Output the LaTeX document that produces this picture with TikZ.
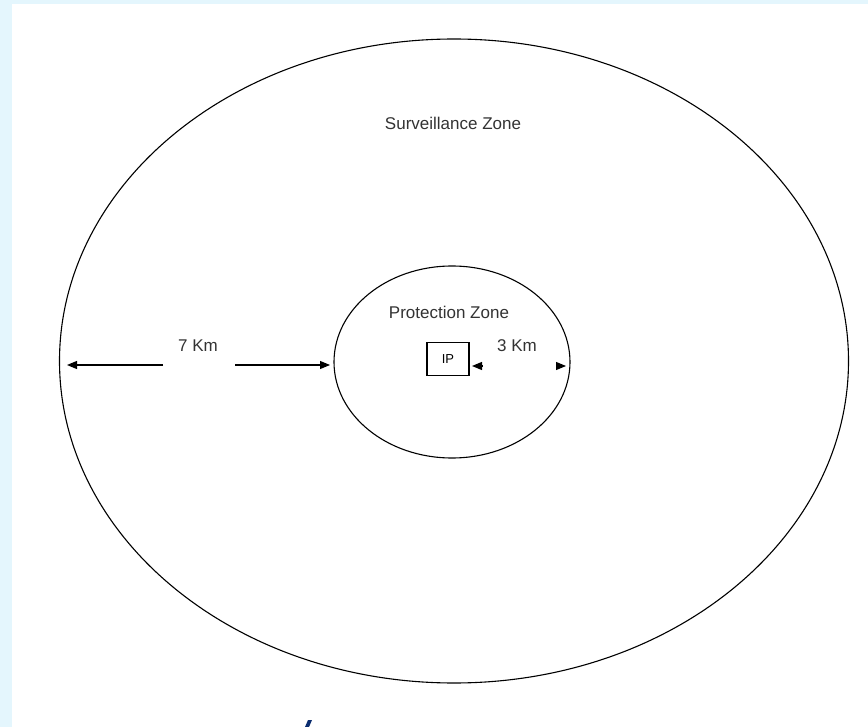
\documentclass[tikz,border=0pt]{standalone}
\usepackage{fontspec}
\setmainfont{Liberation Sans}
\usetikzlibrary{arrows.meta,shapes.geometric}
\definecolor{paleblue}{HTML}{E4F6FD}
\definecolor{inknavy}{HTML}{0B2D6F}
\begin{document}
\begin{tikzpicture}[x=1pt,y=-1pt,
        zone/.style={draw, ellipse, line width=1.1pt, inner sep=0pt},
        lbl/.style={font=\fontsize{17}{20}\selectfont, text=black!80, inner sep=0pt},
        tip/.style={-{Triangle[length=10pt,width=8pt]}, line width=1.1pt}]
    \fill[paleblue] (0,0) rectangle (868,727);
    \fill[white] (12,4) rectangle (868,727);
    \node[zone, minimum width=789pt, minimum height=644pt] (outer) at (454,361) {};
    \node[zone, minimum width=236pt, minimum height=192pt] (inner) at (452,362) {};
    \node[lbl] (surveillance) at (453,123) {Surveillance Zone};
    \node[lbl] (protection) at (449,312) {Protection Zone};
    \node[draw, line width=1.1pt, minimum width=42pt, minimum height=33pt,
        font=\fontsize{13}{15}\selectfont, inner sep=0pt] (ip) at (448,359) {IP};
    \node[lbl] (km7) at (198,346) {7 Km};
    \node[lbl] (km3) at (517,346) {3 Km};
    \coordinate (l7a) at (163,365);
    \coordinate (l7b) at (67,365);
    \coordinate (r7a) at (235,365);
    \coordinate (r7b) at (330,365);
    \draw[tip] (l7a) -- (l7b);
    \draw[tip] (r7a) -- (r7b);
    \coordinate (l3a) at (482,366);
    \coordinate (l3b) at (472,366);
    \coordinate (r3a) at (556,366);
    \coordinate (r3b) at (566,366);
    \draw[tip] (l3a) -- (l3b);
    \draw[tip] (r3a) -- (r3b);
    \fill[inknavy] (305,727) -- (308,720) -- (312,720) -- (309,727) -- cycle;
\end{tikzpicture}
\end{document}
